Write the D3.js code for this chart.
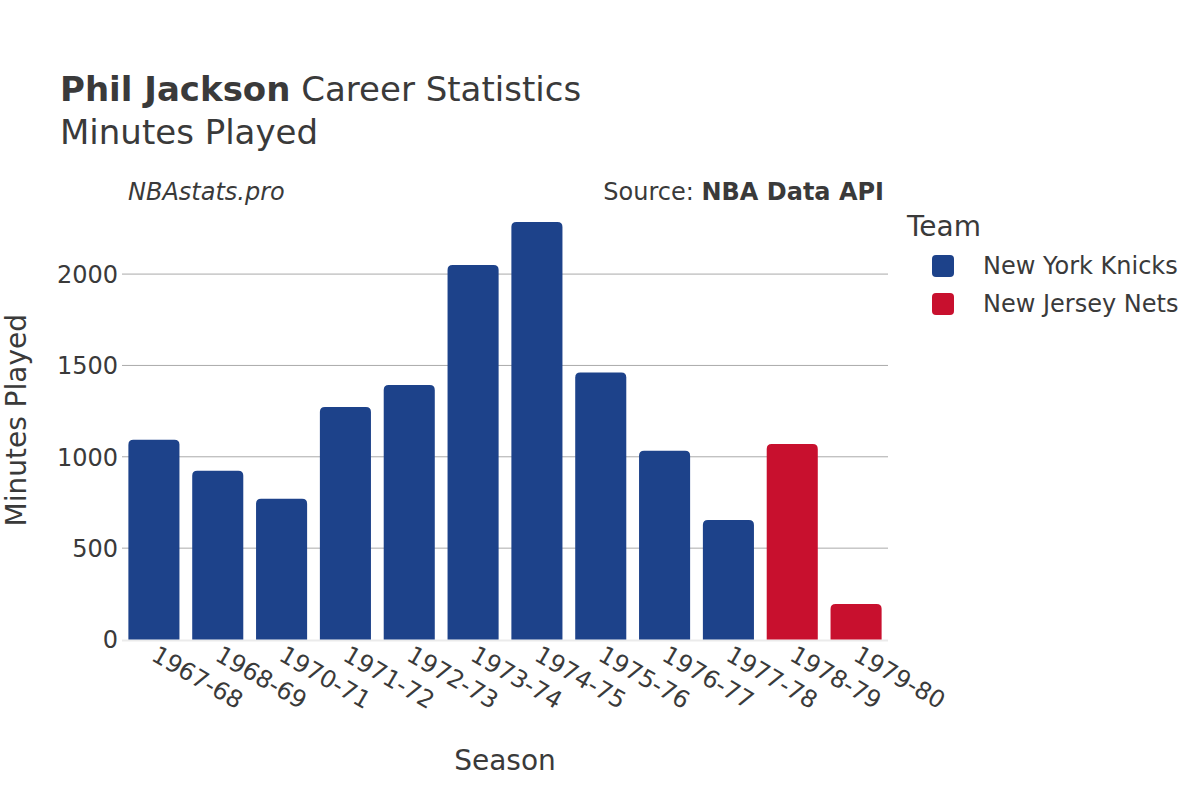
<!DOCTYPE html>
<html><head><meta charset="utf-8">
<script src="https://cdn.jsdelivr.net/npm/d3@7"></script>
<style>body{margin:0;background:#fff}svg{display:block}text{font-family:"DejaVu Sans",sans-serif;fill:#3a3a3a}</style>
</head><body><svg id="c" width="1200" height="800"></svg>
<script>
const seasons = ["1967-68","1968-69","1970-71","1971-72","1972-73","1973-74","1974-75","1975-76","1976-77","1977-78","1978-79","1979-80"];
const minutes = [1093,924,771,1273,1393,2050,2285,1461,1033,654,1070,194];
const teams = ["New York Knicks","New York Knicks","New York Knicks","New York Knicks","New York Knicks","New York Knicks","New York Knicks","New York Knicks","New York Knicks","New York Knicks","New Jersey Nets","New Jersey Nets"];
const teamNames = ["New York Knicks","New Jersey Nets"];
const teamColors = ["#1d428a","#c8102e"];
const yTicks = [0,500,1000,1500,2000];

const svg = d3.select("#c");
const m = {l:122, r:888, t:201, b:639.5};
const x = d3.scaleBand().domain(seasons).range([m.l, m.r]).paddingInner(0.2).paddingOuter(0.1);
const y = d3.scaleLinear().domain([0, 2400]).range([m.b, m.t]);
const color = d3.scaleOrdinal().domain(teamNames).range(teamColors);

// grid
svg.append("g").selectAll("line").data(yTicks.filter(d=>d>0)).join("line")
  .attr("x1", m.l).attr("x2", m.r).attr("y1", d=>y(d)).attr("y2", d=>y(d))
  .attr("stroke", "#aaa").attr("stroke-width", 1);
svg.append("line").attr("x1", m.l).attr("x2", m.r).attr("y1", y(0)+1).attr("y2", y(0)+1)
  .attr("stroke", "#ebebeb").attr("stroke-width", 2);

// bars with rounded tops
const r = 5;
function barPath(d, i){
  const x0 = x(seasons[i]), w = x.bandwidth(), y0 = y(d), yb = y(0);
  const rr = Math.min(r, (yb-y0)/2);
  return `M${x0},${yb}V${y0+rr}Q${x0},${y0} ${x0+rr},${y0}H${x0+w-rr}Q${x0+w},${y0} ${x0+w},${y0+rr}V${yb}Z`;
}
svg.append("g").selectAll("path").data(minutes).join("path")
  .attr("d", barPath).attr("fill", (d,i)=>color(teams[i]));

// y axis labels
const yAxis = d3.axisLeft(y).tickValues(yTicks).tickFormat(d3.format("d")).tickSize(0).tickPadding(0);
const yg = svg.append("g").attr("transform", `translate(${m.l-4},0)`).call(yAxis);
yg.select(".domain").remove();
yg.selectAll("text").style("font-size","24px").style("font-family","DejaVu Sans").attr("fill","#3a3a3a").attr("dy","0.35em");

// x axis labels
const xAxis = d3.axisBottom(x).tickSize(0).tickPadding(0);
const xg = svg.append("g").attr("transform", `translate(0,${m.b})`).call(xAxis);
xg.select(".domain").remove();
xg.selectAll("text").style("font-size","24px").style("font-family","DejaVu Sans").attr("fill","#3a3a3a")
  .attr("text-anchor","start").attr("dy",null).attr("y",0)
  .attr("transform","translate(-4,20) rotate(30)");

// titles
const t = svg.append("text").attr("x",60).attr("y",101).style("font-size","34px");
t.append("tspan").text("Phil Jackson").style("font-weight","bold");
t.append("tspan").text(" Career Statistics");
svg.append("text").attr("x",60).attr("y",144).style("font-size","34px").text("Minutes Played");
svg.append("text").attr("x",128).attr("y",200).style("font-size","24px").style("font-style","italic").text("NBAstats.pro");
const s = svg.append("text").attr("x",884).attr("y",200).attr("text-anchor","end").style("font-size","24px");
s.append("tspan").text("Source: ");
s.append("tspan").text("NBA Data API").style("font-weight","bold");

svg.append("text").attr("x",(m.l+m.r)/2).attr("y",770).attr("text-anchor","middle").style("font-size","28px").text("Season");
svg.append("text").attr("transform",`translate(26,${(m.t+m.b)/2}) rotate(-90)`).attr("text-anchor","middle").style("font-size","28px").text("Minutes Played");

// legend
svg.append("text").attr("x",907).attr("y",236).style("font-size","28px").text("Team");
const lg = svg.append("g").selectAll("g").data(teamNames).join("g")
  .attr("transform",(d,i)=>`translate(932,${255+i*38})`);
lg.append("rect").attr("width",22).attr("height",22).attr("rx",4).attr("fill",d=>color(d));
lg.append("text").attr("x",51).attr("y",11).attr("dy","0.35em").style("font-size","24px").text(d=>d);
</script></body></html>
